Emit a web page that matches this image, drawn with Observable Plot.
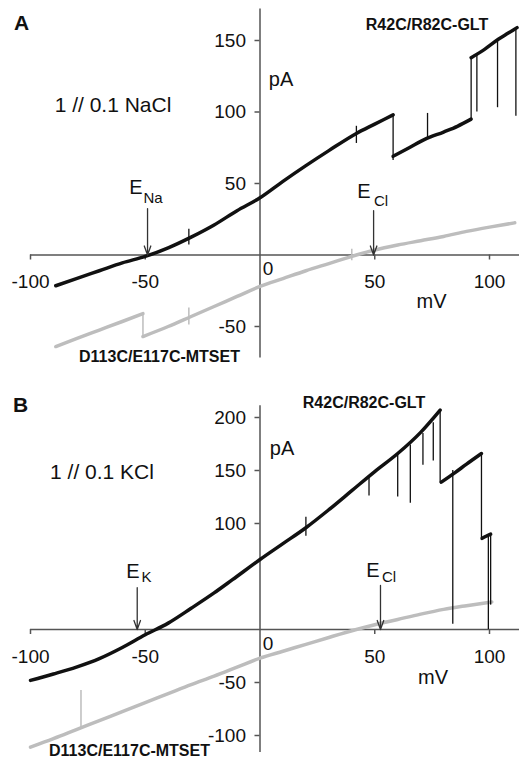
<!DOCTYPE html>
<html><head><meta charset="utf-8">
<script src="https://cdn.jsdelivr.net/npm/d3@7"></script>
<script src="https://cdn.jsdelivr.net/npm/@observablehq/plot@0.6"></script>
<style>
body{margin:0;background:#fff;}
#chart svg{display:block;}
</style>
</head><body><div id="chart"></div>
<script>
// ---------- Panel A (1 // 0.1 NaCl) ----------
const aBlackV   = [-89,-80,-70,-60,-50,-40,-30,-20,-10,0,10,20,30,42,50,58, 58,65,72,80,86,92, 92,98,104,108,112];
const aBlackI   = [-21.5,-16.5,-11,-5.5,-1,5,12.5,21,31,40,51.5,62.5,73,85,91.5,98, 69,75,81,86,90,95, 138,144,151,155,159];
const aBlackSeg = [1,1,1,1,1,1,1,1,1,1,1,1,1,1,1,1, 2,2,2,2,2,2, 3,3,3,3,3];
const aBlackSpikeV    = [58, 92, 73, 94.5, 103.5, 111.5, -31, 42];
const aBlackSpikeFrom = [98, 95, 82, 140, 150, 158, 7, 78];
const aBlackSpikeTo   = [66, 138, 99, 100, 103, 97, 18, 90];
const aGrayV   = [-89,-80,-70,-60,-51, -51,-40,-30,-20,-10,0,10,20,30,42,50,60,70,80,90,100,111];
const aGrayI   = [-64,-58.5,-52.5,-46.5,-41, -57,-50,-43,-36,-29,-22,-16.5,-11,-6,0,3.5,7,10,13,16.5,19.5,22.5];
const aGraySeg = [1,1,1,1,1, 2,2,2,2,2,2,2,2,2,2,2,2,2,2,2,2,2];
const aGraySpikeV    = [-51, -31, 40];
const aGraySpikeFrom = [-41, -49, -4];
const aGraySpikeTo   = [-58, -37, 4];
const aXTicks = [-100, -50, 50, 100];
const aYTicks = [150, 100, 50, -50];
const aRevV = [-49, 49.5];       // E_Na, E_Cl
const aRevTop = [32.5, 31];

// ---------- Panel B (1 // 0.1 KCl) ----------
const bBlackV   = [-100,-90,-80,-70,-60,-50,-40,-30,-20,-12,0,10,20,30,40,50,60,70,78.5, 79,85,90,96.5, 96.8,98.5,100.5];
const bBlackI   = [-48,-42,-35.5,-27.5,-17,-5,6,20,34.5,47,66,81,96,113,131,149,166,186,207, 139,148,156,166, 86,88,90];
const bBlackSeg = [1,1,1,1,1,1,1,1,1,1,1,1,1,1,1,1,1,1,1, 2,2,2,2, 3,3,3];
const bBlackSpikeV    = [78.5, 96.5, 20, 47.5, 60, 65.5, 71, 75.5, 84, 99.5, 100.5];
const bBlackSpikeFrom = [207, 166, 88, 144, 165, 174, 185, 195, 150, 88, 90];
const bBlackSpikeTo   = [138, 84, 106, 126, 125, 119, 155, 159, 5, 0, 23];
const bGrayV   = [-100,-90,-80,-70,-60,-50,-40,-30,-20,-10,0,10,20,30,42,50,60,70,80,90,101];
const bGrayI   = [-111,-103,-94.5,-86,-77.5,-69,-60.5,-52,-44,-35.5,-27,-20.5,-14,-7.5,0,4.5,9.5,14.5,19,22.5,26];
const bGraySeg = bGrayV.map(() => 1);
const bGraySpikeV    = [-78];
const bGraySpikeFrom = [-93];
const bGraySpikeTo   = [-57.5];
const bXTicks = [-100, -50, 50, 100];
const bYTicks = [200, 150, 100, -50, -100];
const bRevV = [-53.5, 52.5];     // E_K, E_Cl
const bRevTop = [39.5, 41.5];

const FONT = "'Liberation Sans', Arial, Helvetica, sans-serif";
const AXIS = "#555";
const BLACK = "#111";
const GRAY = "#bdbdbd";

function rows(V, I, S) { return V.map((v, i) => ({v, i: I[i], s: S[i]})); }
function spikes(V, F, T) { return V.map((v, k) => ({v, f: F[k], t: T[k]})); }

function label(text, x, y, opts = {}) {
  return Plot.text([text], {frameAnchor: "top-left", dx: x, dy: y, text: d => d,
    textAnchor: "middle", lineAnchor: "middle", fill: "#111", fontSize: 19, ...opts});
}

function panel(p) {
  const pxPerI = (p.yRange[0] - p.yRange[1]) / (p.yDomain[1] - p.yDomain[0]);
  const pxPerV = (p.xRange[1] - p.xRange[0]) / 200;
  const tickI = 5 / pxPerI, tickV = 5 / pxPerV;
  return Plot.plot({
    width: 519, height: 380,
    margin: 0,
    style: {fontFamily: FONT, background: "#fff"},
    x: {domain: [-100, 100], range: p.xRange, axis: null},
    y: {domain: p.yDomain, range: p.yRange, axis: null},
    marks: [
      // axes crossing at the origin
      Plot.ruleY([0], {x1: -100, x2: 114, stroke: AXIS, strokeWidth: 1.5}),
      Plot.ruleX([0], {y1: p.yAxisMin, y2: p.yAxisMax, stroke: AXIS, strokeWidth: 1.5}),
      Plot.ruleX(p.xTicks, {x: d => d, y1: 0, y2: -tickI, stroke: AXIS, strokeWidth: 1.5}),
      Plot.ruleY(p.yTicks, {y: d => d, x1: 0, x2: -tickV, stroke: AXIS, strokeWidth: 1.5}),
      Plot.text(p.xTicks, {x: d => d, y: 0, dy: 27, text: d => String(d), fontSize: 19, fill: "#111"}),
      Plot.text(p.yTicks, {x: 0, y: d => d, dx: -14, text: d => String(d), textAnchor: "end", fontSize: 19, fill: "#111"}),
      Plot.text(["0"], {x: 0, y: 0, dx: 8, dy: 14, text: d => d, fontSize: 19, fill: "#111"}),
      // gray trace (D113C/E117C-MTSET)
      Plot.line(rows(p.grayV, p.grayI, p.graySeg), {x: "v", y: "i", z: "s", stroke: GRAY, strokeWidth: 3.5, curve: "monotone-x"}),
      Plot.ruleX(spikes(p.graySpikeV, p.graySpikeFrom, p.graySpikeTo), {x: "v", y1: "f", y2: "t", stroke: GRAY, strokeWidth: 1.5}),
      // black trace (R42C/R82C-GLT)
      Plot.line(rows(p.blackV, p.blackI, p.blackSeg), {x: "v", y: "i", z: "s", stroke: BLACK, strokeWidth: 3.5, curve: "monotone-x"}),
      Plot.ruleX(spikes(p.blackSpikeV, p.blackSpikeFrom, p.blackSpikeTo), {x: "v", y1: "f", y2: "t", stroke: BLACK, strokeWidth: 1.3}),
      // reversal potential arrows
      Plot.arrow(p.revV.map((v, k) => ({v, top: p.revTop[k]})), {x1: "v", x2: "v", y1: "top", y2: 0,
        stroke: "#333", strokeWidth: 1.3, headLength: 11, headAngle: 40}),
      ...p.labels
    ]
  });
}

const panelA = panel({
  xRange: [30, 489], yDomain: [-50, 150], yRange: [326, 40],
  yAxisMin: -72, yAxisMax: 172,
  xTicks: aXTicks, yTicks: aYTicks,
  blackV: aBlackV, blackI: aBlackI, blackSeg: aBlackSeg,
  blackSpikeV: aBlackSpikeV, blackSpikeFrom: aBlackSpikeFrom, blackSpikeTo: aBlackSpikeTo,
  grayV: aGrayV, grayI: aGrayI, graySeg: aGraySeg,
  graySpikeV: aGraySpikeV, graySpikeFrom: aGraySpikeFrom, graySpikeTo: aGraySpikeTo,
  revV: aRevV, revTop: aRevTop,
  labels: [
    label("A", 21, 22.5, {fontWeight: "bold", fontSize: 21}),
    label("R42C/R82C-GLT", 426.5, 24, {fontWeight: "bold", fontSize: 16}),
    label("D113C/E117C-MTSET", 159, 356.5, {fontWeight: "bold", fontSize: 16}),
    label("1 // 0.1 NaCl", 112.5, 104.5, {fontSize: 21}),
    label("pA", 280.5, 79.5, {fontSize: 20}),
    label("mV", 431, 301.5, {fontSize: 20}),
    label("E", 135.5, 187, {fontSize: 20}),
    label("Na", 152.5, 198, {fontSize: 15}),
    label("E", 363.5, 191.5, {fontSize: 20}),
    label("Cl", 380.5, 201, {fontSize: 15})
  ]
});

const panelB = panel({
  xRange: [30, 489], yDomain: [-100, 200], yRange: [355, 37],
  yAxisMin: -116, yAxisMax: 211,
  xTicks: bXTicks, yTicks: bYTicks,
  blackV: bBlackV, blackI: bBlackI, blackSeg: bBlackSeg,
  blackSpikeV: bBlackSpikeV, blackSpikeFrom: bBlackSpikeFrom, blackSpikeTo: bBlackSpikeTo,
  grayV: bGrayV, grayI: bGrayI, graySeg: bGraySeg,
  graySpikeV: bGraySpikeV, graySpikeFrom: bGraySpikeFrom, graySpikeTo: bGraySpikeTo,
  revV: bRevV, revTop: bRevTop,
  labels: [
    label("B", 20, 24.5, {fontWeight: "bold", fontSize: 21}),
    label("R42C/R82C-GLT", 363.5, 22.5, {fontWeight: "bold", fontSize: 16}),
    label("D113C/E117C-MTSET", 129, 370, {fontWeight: "bold", fontSize: 16}),
    label("1 // 0.1 KCl", 101.5, 91.5, {fontSize: 21}),
    label("pA", 281.5, 68, {fontSize: 20}),
    label("mV", 432.5, 297.5, {fontSize: 20}),
    label("E", 132.5, 191, {fontSize: 20}),
    label("K", 146, 197, {fontSize: 15}),
    label("E", 372.5, 190, {fontSize: 20}),
    label("Cl", 388.5, 197, {fontSize: 15})
  ]
});

const chart = document.getElementById("chart");
chart.append(panelA, panelB);
</script>
</body></html>
